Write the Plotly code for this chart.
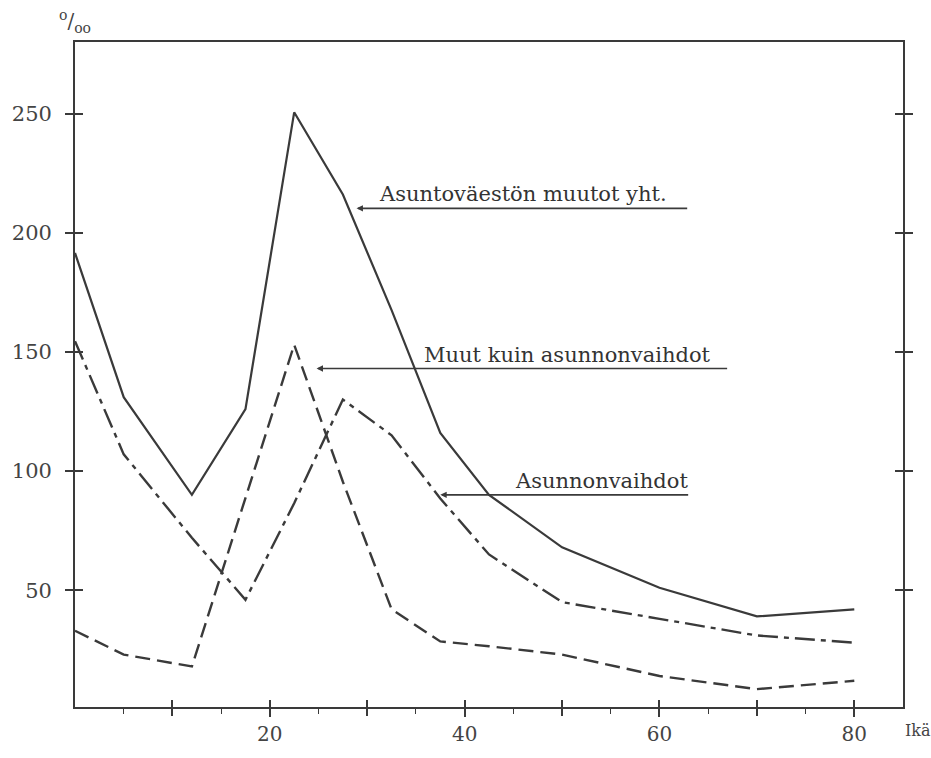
import plotly.graph_objects as go

# Age (x) values
ages = [0, 5, 12, 17.5, 22.5, 27.5, 32.5, 37.5, 42.5, 50, 60, 70, 80]

# Series (per mille)
total_moves = [191.5, 131, 90, 126, 250.5, 216, 167.5, 116, 90, 68, 51, 39, 42]          # Asuntoväestön muutot yht.
other_moves = [33, 23, 18, 89, 153, 95.5, 42, 28.5, 26.5, 23, 14, 8.5, 12]               # Muut kuin asunnonvaihdot
dwelling_changes = [154.5, 107, 72, 46, 86.5, 130, 115, 88.5, 65, 45, 38, 31, 28]       # Asunnonvaihdot

label_total = "Asuntoväestön muutot yht."
label_other = "Muut kuin asunnonvaihdot"
label_change = "Asunnonvaihdot"

x_labeled = [20, 40, 60, 80]
x_unlabeled = [10, 30, 50, 70]
x_major = [10, 20, 30, 40, 50, 60, 70, 80]
x_minor = [5, 15, 25, 35, 45, 55, 65, 75]
y_ticks = [50, 100, 150, 200, 250]

ink = "#3a3a3a"
font_family = "DejaVu Serif"

fig = go.Figure()
fig.add_trace(go.Scatter(x=ages, y=total_moves, mode="lines",
                         line=dict(color=ink, width=2.2), name=label_total))
fig.add_trace(go.Scatter(x=ages, y=other_moves, mode="lines",
                         line=dict(color=ink, width=2.4, dash="15px,7px"), name=label_other))
fig.add_trace(go.Scatter(x=ages, y=dwelling_changes, mode="lines",
                         line=dict(color=ink, width=2.4, dash="20px,6px,5px,6px"), name=label_change))
# invisible traces to activate the overlay axes
fig.add_trace(go.Scatter(x=[None], y=[None], xaxis="x2", yaxis="y2", showlegend=False))
fig.add_trace(go.Scatter(x=[None], y=[None], xaxis="x3", yaxis="y", showlegend=False))

axis_font = dict(family=font_family, size=20, color="#444444")

fig.update_layout(
    width=931, height=758,
    margin=dict(l=71, r=28, t=42, b=38),
    paper_bgcolor="white", plot_bgcolor="white",
    showlegend=False,
    xaxis=dict(range=[0, 85], showgrid=False, zeroline=False,
               showline=True, linecolor=ink, linewidth=1.8, mirror=True,
               tickmode="array", tickvals=x_labeled,
               ticks="outside", ticklen=8, tickwidth=1.5, tickcolor=ink,
               minor=dict(tickvals=x_minor, ticks="outside", ticklen=5,
                          tickwidth=1.2, tickcolor=ink),
               tickfont=axis_font),
    xaxis3=dict(overlaying="x", matches="x", range=[0, 85], showgrid=False,
                zeroline=False, showline=False, tickmode="array", tickvals=x_unlabeled,
                ticks="outside", ticklen=8, tickwidth=1.5, tickcolor=ink,
                showticklabels=False, side="bottom"),
    yaxis=dict(range=[1, 280], showgrid=False, zeroline=False,
               showline=True, linecolor=ink, linewidth=1.8, mirror="allticks",
               tickmode="array", tickvals=y_ticks,
               ticks="outside", ticklen=8, tickwidth=1.5, tickcolor=ink,
               ticklabelstandoff=9, tickfont=dict(family=font_family, size=21, color="#444444")),
    xaxis2=dict(overlaying="x", matches="x", range=[0, 85], showgrid=False,
                zeroline=False, showline=False, tickmode="array", tickvals=x_major,
                ticks="inside", ticklen=7, tickwidth=1.5, tickcolor=ink,
                showticklabels=False, side="bottom"),
    yaxis2=dict(overlaying="y", matches="y", range=[1, 280], showgrid=False,
                zeroline=False, showline=False, tickmode="array", tickvals=y_ticks,
                ticks="inside", ticklen=8, tickwidth=1.5, tickcolor=ink,
                mirror="allticks", showticklabels=False, side="left"),
)

text_font = dict(family=font_family, size=21, color="#333333")

def pointer(tip_x, tip_y, tail_x, text, text_x):
    fig.add_annotation(x=tip_x, y=tip_y, ax=tail_x, ay=tip_y, xref="x", yref="y",
                       axref="x", ayref="y", text="", showarrow=True,
                       arrowhead=2, arrowsize=0.8, arrowwidth=1.6, arrowcolor=ink,
                       standoff=0, startstandoff=0)
    fig.add_annotation(x=text_x, y=tip_y, xref="x", yref="y", text=text,
                       showarrow=False, xanchor="left", yanchor="bottom",
                       yshift=0, font=text_font)

pointer(28.9, 210.2, 63.0, label_total, 31.0)
pointer(24.8, 143.0, 67.1, label_other, 35.6)
pointer(37.5, 90.0, 63.1, label_change, 45.0)

fig.add_annotation(x=0, y=1, xref="paper", yref="paper", xanchor="center",
                   yanchor="bottom", yshift=4, showarrow=False,
                   text="<sup>o</sup>/<sub>oo</sub>",
                   font=dict(family=font_family, size=20, color="#444444"))
fig.add_annotation(x=1, y=0, xref="paper", yref="paper", xanchor="left",
                   yanchor="top", xshift=0, yshift=-12, showarrow=False,
                   text="Ikä", font=dict(family=font_family, size=16, color="#444444"))

fig.write_html("out.html",
               config={"displayModeBar": False},
               post_script="document.body.style.margin='0';document.body.style.overflow='hidden';")
